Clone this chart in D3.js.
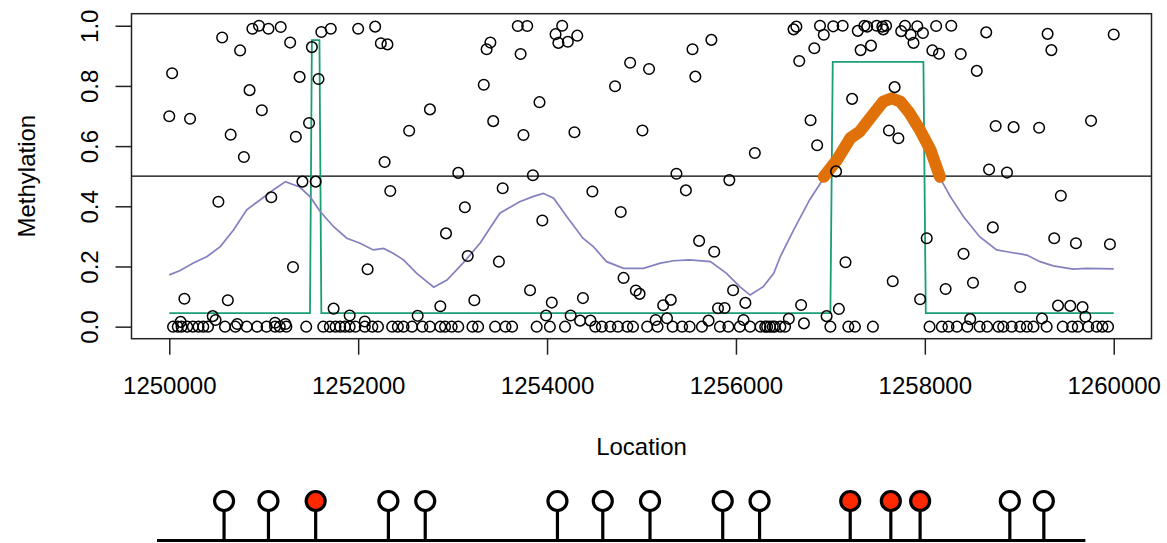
<!DOCTYPE html>
<meta charset="utf-8">
<style>
body { margin: 0; background: #fff; }
svg text { font-family: 'Liberation Sans', Arial, Helvetica, sans-serif; font-size: 24px; fill: #000; }
.axis line { stroke: #222; stroke-width: 1.5px; }
.axis path { display: none; }
.pt { fill: none; stroke: #000; stroke-width: 1.5px; }
.smooth { fill: none; stroke: #8480C0; stroke-width: 1.7px; }
.fit { fill: none; stroke: #1B9E77; stroke-width: 1.8px; }
.dmr { fill: none; stroke: #E07008; stroke-width: 12px; stroke-linecap: round; stroke-linejoin: round; }
</style>
<svg id="svg" width="1167" height="543"></svg>
<script src="https://cdnjs.cloudflare.com/ajax/libs/d3/7.8.5/d3.min.js"></script>
<script>

// observed CpG methylation (location, value)
let cpgLoc = [1250030,1250000,1250220,1250560,1250750,1250850,1250980,1250650,1250790,1250880,
  1250950,1251050,1251180,1251280,1251380,1251340,1251480,1251510,1251580,1251610,
  1251710,1251410,1251550,1252000,1252180,1252240,1252310,1252280,1252340,1250520,
  1251080,1251310,1252100,1250160,1250620,1250460,1250490,1251740,1251910,1252540,
  1252760,1253060,1253330,1253360,1253400,1253430,1253530,1253690,1253790,1253720,
  1253750,1253850,1253920,1254090,1254160,1254120,1254220,1254320,1254290,1254480,
  1254720,1254880,1255080,1255010,1255370,1255470,1255540,1255570,1255740,1255930,
  1256200,1253130,1252930,1253160,1253490,1253950,1254780,1255610,1255770,1254810,
  1254940,1254980,1253820,1252870,1253230,1254050,1254380,1255230,1255310,1255970,
  1256100,1255810,1255880,1252630,1253990,1254250,1254350,1254460,1255150,1255270,
  1255710,1256080,1250120,1250720,1251120,1251230,1252070,
  1256610,1256640,1256670,1256830,1256890,1256930,1257030,1257130,1257290,1257360,
  1257390,1257490,1257550,1257590,1257560,1257320,1257430,1257750,1257790,1257850,
  1257920,1257880,1257980,1258120,1258280,1258080,1258150,1258380,1258550,1258650,
  1259300,1259340,1260000,1257680,1257230,1256790,1256860,1257620,1257720,1258750,
  1258940,1259210,1259760,1257060,1258680,1258870,1259440,1258720,1258020,1259370,
  1259600,1259960,1257160,1258410,1257660,1258220,1258510,1259010,1257950,1256690,
  1257090,1256960,1259410,1259540,1259670,1259700,1258480,1259240,1256560,1256720]
let cpgMeth = [.842,.699,.691,.961,.918,.786,.719,.638,.564,.990,
  1.0,.990,.996,.944,.830,.631,.677,.929,.823,.979,
  .990,.482,.482,.990,.997,.942,.938,.547,.451,.415,
  .430,.198,.191,.093,.088,.035,.022,.060,.037,.651,
  .722,.511,.804,.922,.944,.683,.460,.999,.999,.906,
  .637,.503,.746,.972,1.0,.943,.947,.967,.646,.449,
  .799,.877,.856,.652,.508,.453,.922,.831,.953,.487,
  .577,.397,.310,.235,.216,.353,.381,.285,.249,.162,
  .120,.109,.121,.068,.088,.080,.095,.071,.089,.121,
  .079,.061,.062,.036,.037,.037,.020,.020,.022,.028,
  .020,.022,.016,.009,.013,.009,.017,
  .988,.997,.883,.925,1.0,.970,.998,1.0,.983,1.0,
  .997,1.0,.997,1.0,.988,.919,.934,.982,1.0,.970,
  .998,.943,.976,.999,1.0,.918,.907,.906,.850,.978,
  .973,.919,.971,.796,.757,.686,.603,.652,.626,.667,
  .663,.661,.684,.516,.522,.512,.435,.330,.294,.294,
  .277,.274,.214,.242,.151,.125,.146,.132,.091,.072,
  .059,.035,.070,.069,.065,.033,.025,.027,.026,.011]

// CpGs with zero methylation
let zeroLoc = [1250040,1250090,1250130,1250190,1250250,1250310,1250360,1250410,1250590,1250700,
  1250820,1250930,1251030,1251120,1251170,1251240,1251450,1251630,1251700,1251760,
  1251810,1251860,1251910,1251970,1252070,1252150,1252210,1252360,1252420,1252480,
  1252570,1252680,1252760,1252870,1252920,1252990,1253060,1253210,1253270,1253450,
  1253560,1253630,1253890,1254030,1254190,1254510,1254580,1254670,1254750,1254850,
  1254910,1255060,1255170,1255330,1255430,1255510,1255640,1255830,1255920,1256040,
  1256150,1256260,1256330,1256390,1256310,1256360,1256410,1256470,1256520,1257000,
  1257190,1257260,1257450,1258050,1258180,1258250,1258340,1258450,1258580,1258660,
  1258780,1258830,1258920,1259010,1259080,1259150,1259290,1259460,1259560,1259620,
  1259730,1259820,1259880,1259940]

// smoothed methylation
let smoothLoc = [1250000,1250110,1250250,1250400,1250540,1250680,1250820,1250960,1251100,1251230,
  1251380,1251490,1251600,1251740,1251880,1252020,1252160,1252270,1252370,1252480,
  1252620,1252800,1252940,1253110,1253290,1253500,1253710,1253850,1253960,1254070,
  1254210,1254380,1254490,1254630,1254810,1255020,1255200,1255340,1255510,1255730,
  1255900,1256040,1256150,1256290,1256400,1256470,1256610,1256780,1256930,1257070,
  1257210,1257310,1257460,1257560,1257650,1257740,1257840,1257950,1258060,1258160,
  1258270,1258410,1258580,1258760,1258870,1259080,1259220,1259360,1259570,1259710,1260000]
let smoothMeth = [.172,.186,.211,.233,.266,.321,.388,.421,.454,.482,
  .464,.432,.382,.332,.294,.277,.255,.260,.244,.222,
  .177,.131,.155,.211,.277,.377,.415,.432,.443,.427,
  .365,.294,.266,.216,.194,.194,.211,.219,.222,.216,
  .177,.133,.105,.133,.177,.233,.321,.421,.494,.554,
  .626,.648,.709,.748,.759,.748,.709,.653,.587,.494,
  .432,.365,.299,.255,.249,.238,.216,.202,.191,.194,.192]

// smoothed values above the 0.5 cutoff
let dmrLoc = [1256930,1257070,1257210,1257310,1257460,1257560,1257650,1257740,1257840,1257950,1258060,1258160]
let dmrMeth = [.498,.554,.626,.648,.709,.748,.759,.748,.709,.653,.587,.498]

// segmented fit
let fitLoc = [1250000,1251490,1251510,1251590,1251610,1257000,1257025,1257985,1258010,1260000]
let fitMeth = [.045,.045,.952,.952,.045,.045,.880,.880,.045,.045]

let cutoff = [0.5]
let xTicks = [1250000,1252000,1254000,1256000,1258000,1260000]
let yTicks = [0,0.2,0.4,0.6,0.8,1.0]

// gene track below
let trackRange = [1249870,1259700]
let siteLoc = [1250580,1251050,1251550,1252320,1252710,1254110,1254590,1255090,1255860,1256250,1257210,1257640,1257950,1258900,1259260]
let siteHit = [0,0,1,0,0,0,0,0,0,0,1,1,1,0,0]

function translate(x, y) {
    return 'translate(' + x + ',' + y + ')';
}

let svg = d3.select('#svg')
let margin = {left: 131.5, right: 1151.5, top: 13.7, bottom: 338.7}

// R style 4% padding around the data range
let x = d3.scaleLinear().domain([1249600, 1260400]).range([margin.left, margin.right])
let y = d3.scaleLinear().domain([-0.04, 1.04]).range([margin.bottom, margin.top])

let g = svg.append('g')

// cutoff line
g.selectAll('.cut')
    .data(cutoff)
    .enter().append('line')
    .attr('x1', margin.left).attr('x2', margin.right)
    .attr('y1', d => y(d)).attr('y2', d => y(d))
    .attr('stroke', '#000').attr('stroke-width', 1.2)

let line = d3.line()
    .x(d => x(d[0]))
    .y(d => y(d[1]))

g.append('path')
    .attr('class', 'fit')
    .attr('d', line(d3.zip(fitLoc, fitMeth)))

g.append('path')
    .attr('class', 'smooth')
    .attr('d', line(d3.zip(smoothLoc, smoothMeth)))

g.append('path')
    .attr('class', 'dmr')
    .attr('d', line(d3.zip(dmrLoc, dmrMeth)))

let pts = d3.zip(cpgLoc, cpgMeth).concat(zeroLoc.map(d => [d, 0]))

g.selectAll('.pt')
    .data(pts)
    .enter().append('circle')
    .attr('class', 'pt')
    .attr('cx', d => x(d[0]))
    .attr('cy', d => y(d[1]))
    .attr('r', 5.3)

// box
g.append('rect')
    .attr('x', margin.left).attr('y', margin.top)
    .attr('width', margin.right - margin.left)
    .attr('height', margin.bottom - margin.top)
    .attr('fill', 'none').attr('stroke', '#222').attr('stroke-width', 1.5)

let xAxis = d3.axisBottom(x)
    .tickValues(xTicks)
    .tickSize(16)
    .tickPadding(22)
    .tickFormat(d3.format('d'))

g.append('g')
    .attr('class', 'axis')
    .attr('transform', translate(0, margin.bottom))
    .call(xAxis)
    .selectAll('text')
    .attr('fill', '#000')

let yAxis = d3.axisLeft(y)
    .tickValues(yTicks)
    .tickSize(16)
    .tickFormat(d3.format('.1f'))

g.append('g')
    .attr('class', 'axis')
    .attr('transform', translate(margin.left, 0))
    .call(yAxis)
    .selectAll('text')
    .attr('fill', '#000')
    .attr('transform', 'rotate(-90)')
    .attr('x', 0)
    .attr('y', -34)
    .attr('dy', 0)
    .attr('text-anchor', 'middle')

g.append('text')
    .attr('transform', translate(35, (margin.top + margin.bottom) / 2) + ' rotate(-90)')
    .attr('text-anchor', 'middle')
    .text('Methylation')

g.append('text')
    .attr('x', (margin.left + margin.right) / 2)
    .attr('y', 455)
    .attr('text-anchor', 'middle')
    .text('Location')

// lollipop track
let trackY = 540.5, headY = 501
let track = svg.append('g')

track.append('line')
    .attr('x1', x(trackRange[0])).attr('x2', x(trackRange[1]))
    .attr('y1', trackY).attr('y2', trackY)
    .attr('stroke', '#000').attr('stroke-width', 3)

let pop = track.selectAll('.site')
    .data(d3.zip(siteLoc, siteHit))
    .enter().append('g')
    .attr('class', 'site')
    .attr('transform', d => translate(x(d[0]), 0))

pop.append('line')
    .attr('x1', 0).attr('x2', 0)
    .attr('y1', headY + 9).attr('y2', trackY)
    .attr('stroke', '#000').attr('stroke-width', 3.2)

pop.append('circle')
    .attr('cy', headY)
    .attr('r', 9.5)
    .attr('fill', d => d[1] ? '#FF2800' : '#fff')
    .attr('stroke', '#000')
    .attr('stroke-width', 3.2)

</script>
